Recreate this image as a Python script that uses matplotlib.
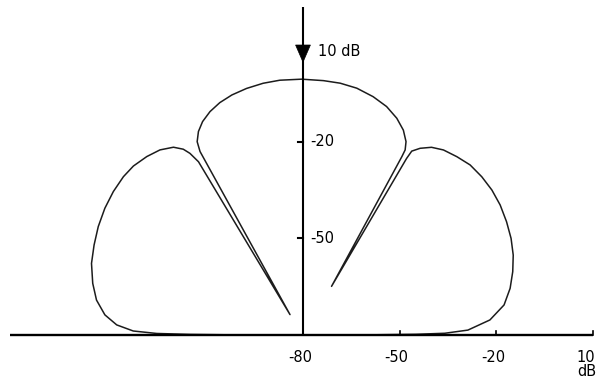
import numpy as np
import matplotlib
matplotlib.use("Agg")
import matplotlib.pyplot as plt
from matplotlib.patches import Polygon

# Level at the centre of the diagram; radius = level - FLOOR_DB
FLOOR_DB = -80

# Radiation pattern over the upper half plane (0 deg = right horizon)
theta_deg = [
    # right side lobe
    0.0, 0.35, 0.7, 1.7, 4.6, 8.5, 12.7, 16.8, 20.8, 24.9, 29.1, 33.4,
    37.5, 41.5, 45.5, 49.2, 52.8, 55.6, 57.9, 59.4, 59.6,
    # right null
    59.6,
    # main lobe
    61.0, 61.1, 61.95, 63.9, 66.6, 69.9, 73.6, 77.7, 81.6, 85.4, 90.3,
    95.2, 99.0, 102.9, 106.5, 109.7, 112.6, 115.2, 117.2, 118.7, 119.3,
    # left null
    122.5,
    # left side lobe
    121.1, 121.9, 122.8, 124.6, 127.7, 131.2, 135.1, 138.6, 142.9, 147.4,
    152.1, 156.7, 161.3, 166.2, 170.4, 174.2, 176.9, 178.65, 179.4, 179.7,
    180.0,
]
level_db = [
    -63.0, -45.0, -36.0, -28.8, -21.8, -16.9, -14.1, -12.0, -10.2, -8.8, -7.7, -6.7,
    -6.1, -5.9, -6.0, -6.9, -7.9, -9.4, -11.6, -13.7, -16.5,
    -62.5,
    -16.7, -14.4, -12.0, -9.2, -6.7, -4.5, -2.9, -1.6, -1.0, -0.8, -0.6,
    -0.6, -0.9, -1.5, -2.3, -3.4, -4.9, -6.8, -9.0, -11.6, -14.7,
    -72.5,
    -17.2, -13.6, -11.4, -9.2, -7.4, -6.4, -5.7, -5.7, -6.2, -7.0,
    -8.1, -9.4, -10.7, -12.8, -15.0, -18.2, -22.1, -27.3, -34.6, -45.0,
    -62.0,
]

# Scale annotations
x_tick_db = [-80, -50, -20, 10]
x_tick_labels = ["-80", "-50", "-20", "10"]
y_tick_db = [-50, -20]
y_tick_labels = ["-50", "-20"]
arrow_db = 10

plt.rcParams["font.family"] = ["DejaVu Sans"]
FS = 10.5

fig = plt.figure(figsize=(5.98, 3.84), dpi=100)
ax = fig.add_axes([0, 0, 1, 1])
ax.set_xlim(-94.04, 91.56)
ax.set_ylim(-15.21, 103.97)
ax.axis("off")

# Pattern curve
r = np.clip(np.asarray(level_db) - FLOOR_DB, 0, None)
th = np.radians(theta_deg)
ax.plot(r * np.cos(th), r * np.sin(th), color="#1c1c1c", lw=1.1,
        solid_joinstyle="round", solid_capstyle="round")

# Axes lines
ax.plot([-91.0, 90.0], [0, 0], color="black", lw=1.7, solid_capstyle="butt")
ax.plot([0, 0], [0, 101.8], color="black", lw=1.5, solid_capstyle="butt")

# Horizontal ticks and labels
for i, (v, lab) in enumerate(zip(x_tick_db, x_tick_labels)):
    rr = v - FLOOR_DB
    if rr > 0:
        ax.plot([rr, rr], [0, 1.3], color="black", lw=1.2)
    dx = -2.2 if i == len(x_tick_db) - 1 else -1.0
    ax.text(rr + dx, -4.6, lab, ha="center", va="top", fontsize=FS)
ax.text(x_tick_db[-1] - FLOOR_DB - 1.8, -11.3, "dB", ha="center", va="center",
        fontsize=FS)

# Vertical ticks and labels
for v, lab in zip(y_tick_db, y_tick_labels):
    rr = v - FLOOR_DB
    ax.plot([-1.6, 0], [rr, rr], color="black", lw=1.5)
    ax.text(2.1, rr, lab, ha="left", va="center", fontsize=FS)

# Reference arrow at the top of the scale
ra = arrow_db - FLOOR_DB
ax.add_patch(Polygon([(-2.3, ra), (2.3, ra), (0, ra - 5.3)], closed=True,
                     facecolor="black", edgecolor="black", lw=0.5))
ax.text(4.6, ra - 2.0, f"{arrow_db} dB", ha="left", va="center", fontsize=FS)

fig.savefig("out.png", dpi=100)
